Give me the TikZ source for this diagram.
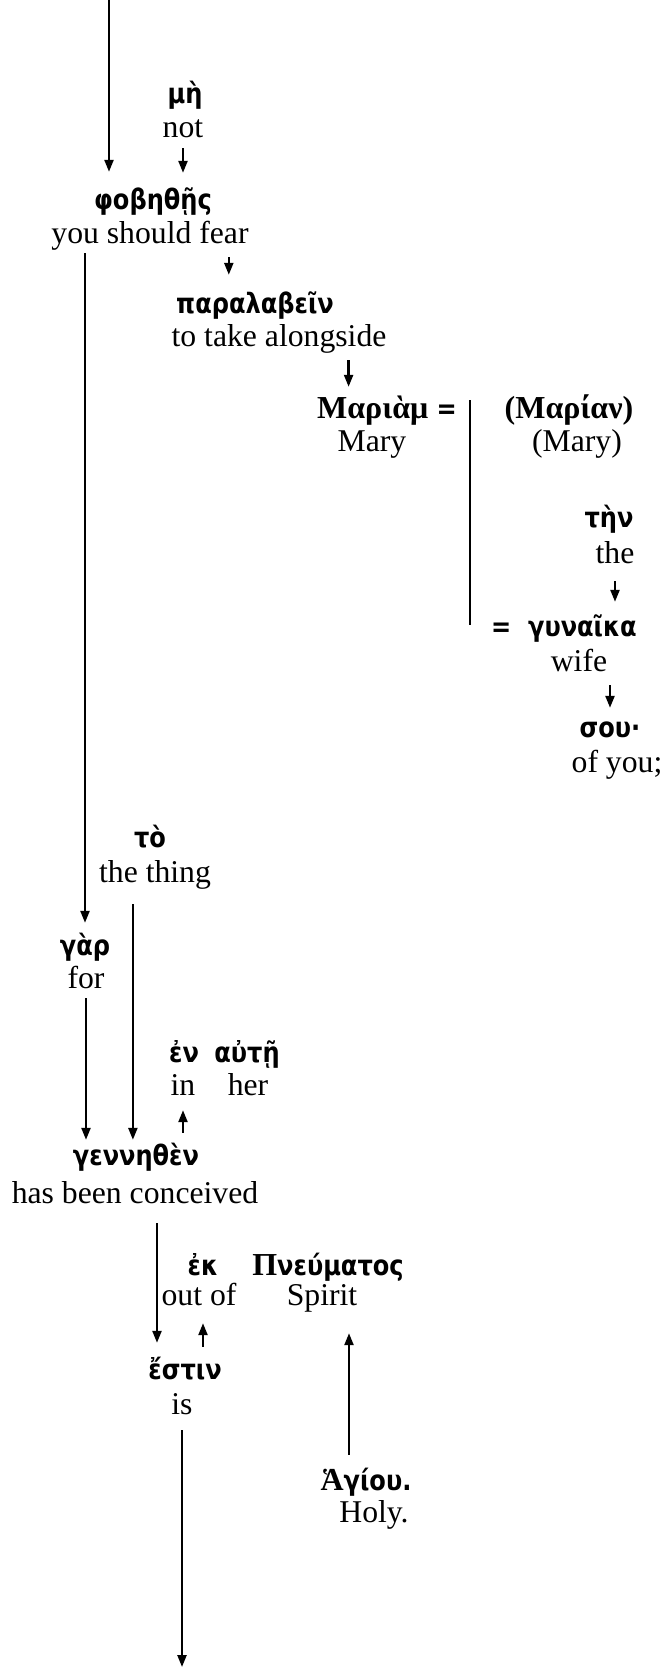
\documentclass[tikz,border=0pt]{standalone}
\usepackage{fontspec}
\setmainfont{Liberation Serif}
\newfontfamily\greek{DejaVu Sans}[FakeStretch=0.86]
\newfontfamily\greekserif{Liberation Serif}
\newcommand{\gs}[1]{{\greekserif\fontsize{32}{36}\selectfont #1}}
\usetikzlibrary{arrows.meta}

\begin{document}
\begin{tikzpicture}[x=1pt,y=-1pt,
   gk/.style={anchor=base,inner sep=0pt,text height=20pt,text depth=7pt,
      font=\greek\bfseries\fontsize{28}{32}\selectfont},
   en/.style={anchor=base,inner sep=0pt,text height=22pt,text depth=7pt,
      font=\fontsize{31.7}{36}\selectfont},
   arr/.style={line width=2.3pt,-{Triangle[length=12pt,width=9pt]}},
   ln/.style={line width=2.3pt}]
   \useasboundingbox (0,0) rectangle (663,1667);
   % words
   \node[gk] (mhG)    at (185,104)  {μὴ};
   \node[en] (notE)   at (183,137)  {not};
   \node[gk] (phobG)  at (153,209)  {φοβηθῇς};
   \node[en] (fearE)  at (150,243)  {you should fear};
   \node[gk] (paraG)  at (255,313)  {παραλαβεῖν};
   \node[en] (alongE) at (279,346)  {to take alongside};
   \node[gk] (marG)   at (387,418)  {\gs{Μαριὰμ} =};
   \node[en] (maryE)  at (372,451)  {Mary};
   \node[gk] (marnG)  at (569,418)  {\gs{(Μαρίαν)}};
   \node[en] (marnE)  at (577,451)  {(Mary)};
   \node[gk] (thnG)   at (609,527)  {τὴν};
   \node[en] (theE)   at (615,563)  {the};
   \node[gk] (gunG)   at (564,636)  {=~~γυναῖκα};
   \node[en] (wifeE)  at (579,671)  {wife};
   \node[gk] (souG)   at (610,737)  {σου·};
   \node[en] (youE)   at (617,772)  {of you;};
   \node[gk] (toG)    at (150,847)  {τὸ};
   \node[en] (thingE) at (155,882)  {the thing};
   \node[gk] (garG)   at (85,955)   {γὰρ};
   \node[en] (forE)   at (86,988)   {for};
   \node[gk] (enG)    at (184,1062) {ἐν};
   \node[gk] (autG)   at (247,1062) {αὐτῇ};
   \node[en] (inE)    at (183,1095) {in};
   \node[en] (herE)   at (248,1095) {her};
   \node[gk] (genG)   at (136,1165) {γεννηθὲν};
   \node[en] (concE)  at (135,1203) {has been conceived};
   \node[gk] (ekG)    at (203,1275) {ἐκ};
   \node[gk] (pneuG)  at (328,1275) {\gs{Π}νεύματος};
   \node[en] (outE)   at (199,1305) {out of};
   \node[en] (spirE)  at (322,1305) {Spirit};
   \node[gk] (estG)   at (185,1379) {ἔστιν};
   \node[en] (isE)    at (182,1414) {is};
   \node[gk] (hagG)   at (366,1490) {\gs{Ἁ}γίου.};
   \node[en] (holyE)  at (374,1522) {Holy.};
   \coordinate (top) at (109,0);
   \coordinate (bot) at (182,1667);
   \coordinate (apT) at (470,400);
   \coordinate (apB) at (470,625);
   % arrows
   \draw[arr,shorten >=17pt] (top) -- (top |- phobG.north);
   \draw[arr,shorten <=4pt,shorten >=16pt] (notE.south) -- (notE.south |- phobG.north);
   \draw[arr,shorten <=7pt,shorten >=18pt] ([xshift=-20pt]fearE.south east) -- ([xshift=-20pt]fearE.south east |- paraG.north);
   \draw[arr,shorten <=7pt,shorten >=11pt] ([xshift=-38pt]alongE.south east) -- ([xshift=-38pt]alongE.south east |- marG.north);
   \draw[ln] (apT) -- (apB);
   \draw[arr,shorten <=11pt,shorten >=14pt] (theE.south) -- (theE.south |- gunG.north);
   \draw[arr,shorten <=7pt,shorten >=9pt] (souG.north |- wifeE.south) -- (souG.north);
   \draw[arr,shorten <=3pt,shorten >=12pt] (garG |- fearE.south) -- (garG.north);
   \draw[arr,shorten <=3pt,shorten >=5pt] (forE.south) -- (forE.south |- genG.north);
   \draw[arr,shorten <=15pt,shorten >=5pt] ([xshift=34pt]thingE.south west) -- ([xshift=34pt]thingE.south west |- genG.north);
   \draw[arr,shorten <=12pt,shorten >=8pt] (inE.south |- genG.north) -- (inE.south);
   \draw[arr,shorten <=13pt,shorten >=16pt] ([xshift=22pt]concE.south) -- ([xshift=22pt]concE.south |- estG.north);
   \draw[arr,shorten <=12pt,shorten >=11pt] (ekG |- estG.north) -- (ekG |- outE.south);
   \draw[arr,shorten <=9pt] (isE.south) -- (bot);
   \draw[arr,shorten <=15pt,shorten >=21pt] ([xshift=-17pt]hagG.north) -- ([xshift=-17pt]hagG.north |- spirE.south);
\end{tikzpicture}
\end{document}
